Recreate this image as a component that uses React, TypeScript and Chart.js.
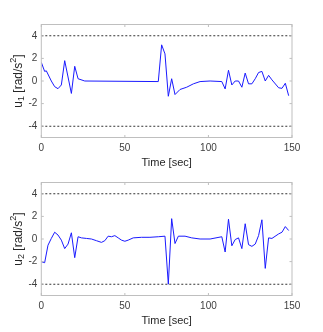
import React, { useEffect, useRef } from "react";
import { Chart, registerables } from "chart.js";

Chart.register(...registerables);

// ---- data ----
const u1Time = [0, 2, 3, 6, 8, 10, 12, 14, 18, 20, 22, 26, 70, 72, 74, 76, 78, 80, 83, 87, 91, 95, 101, 108, 110, 112, 114, 116, 118, 120, 122, 124, 126, 128, 130, 132, 134, 136, 138, 142, 144, 146, 148];
const u1Values = [1.65, 0.85, 0.9, 0, -0.5, -0.68, -0.35, 1.8, -1.1, 1.3, 0.2, 0, -0.05, 3.2, 2.4, -1.35, 0.2, -1.2, -0.75, -0.55, -0.25, -0.05, 0, -0.05, -0.7, 0.95, -0.35, 0, 0, -0.55, 0.7, -0.25, -0.25, 0.2, 0.75, 0.85, 0, 0.5, 0.1, -0.6, -0.65, -0.2, -1.3];

const u2Time = [0, 2, 4, 6, 8, 10, 12, 14, 16, 18, 20, 22, 24, 27, 30, 33, 36, 38, 40, 42, 44, 46, 48, 50, 52, 55, 60, 65, 70, 74, 76, 78, 80, 82, 86, 90, 95, 101, 108, 110, 112, 114, 116, 118, 120, 122, 124, 126, 128, 130, 132, 134, 136, 138, 142, 144, 146, 148];
const u2Values = [-2.0, -2.1, -0.55, 0.05, 0.6, 0.35, -0.1, -0.85, -0.45, 0.55, -1.65, 0.2, 0.1, 0.05, 0, -0.15, -0.3, -0.15, 0.25, 0.2, 0.3, 0.1, -0.1, -0.2, -0.1, 0.1, 0.15, 0.15, 0.2, 0.25, -4.0, 1.8, -0.4, 0.25, 0.25, 0.1, 0, 0, 0.2, -1.15, 1.75, -0.6, -0.05, 0.1, -0.85, 1.35, -0.5, -0.65, -0.45, 0.3, 1.7, -2.6, 0.1, 0.05, 0.45, 0.6, 1.1, 0.75];

const limitTimes = [0, 150];
const upperLimit = [4, 4];
const lowerLimit = [-4, -4];

const xTicks = [0, 50, 100, 150];
const yTicks = [-4, -2, 0, 2, 4];
const xTitle = "Time [sec]";

const FONT = "'Liberation Sans', Arial, Helvetica, sans-serif";
const TEXT_COLOR = "#404040";
const BOX_COLOR = "#bfbfbf";

function pts(xs: number[], ys: number[]) {
  return xs.map((x, i) => ({ x, y: ys[i] }));
}

const boxPlugin = {
  id: "matlabBox",
  afterDraw(chart: any, _args: any, opts: any) {
    const { ctx, chartArea: a, scales } = chart;
    const xs = scales.x;
    const ys = scales.y;
    ctx.save();
    ctx.strokeStyle = BOX_COLOR;
    ctx.lineWidth = 1;
    ctx.strokeRect(a.left, a.top, a.right - a.left, a.bottom - a.top);
    const tl = 2.5;
    ctx.beginPath();
    xTicks.forEach((v) => {
      const px = xs.getPixelForValue(v);
      ctx.moveTo(px, a.bottom);
      ctx.lineTo(px, a.bottom - tl);
      ctx.moveTo(px, a.top);
      ctx.lineTo(px, a.top + tl);
    });
    yTicks.forEach((v) => {
      const py = ys.getPixelForValue(v);
      ctx.moveTo(a.left, py);
      ctx.lineTo(a.left + tl, py);
      ctx.moveTo(a.right, py);
      ctx.lineTo(a.right - tl, py);
    });
    ctx.stroke();

    // x title
    ctx.fillStyle = "#262626";
    ctx.font = `11px ${FONT}`;
    ctx.textAlign = "center";
    ctx.textBaseline = "middle";
    ctx.fillText(xTitle, (a.left + a.right) / 2, a.bottom + 25.5);

    // y title with subscript / superscript
    const parts: [string, number, number][] = [
      ["u", 12, 0],
      [opts.sub, 9, 3.5],
      [" [rad/s", 12, 0],
      ["2", 9, -4.5],
      ["]", 12, 0],
    ];
    let total = 0;
    parts.forEach(([t, s]) => {
      ctx.font = `${s}px ${FONT}`;
      total += ctx.measureText(t).width;
    });
    ctx.translate(18.5, (a.top + a.bottom) / 2);
    ctx.rotate(-Math.PI / 2);
    ctx.textAlign = "left";
    let x = -total / 2;
    parts.forEach(([t, s, dy]) => {
      ctx.font = `${s}px ${FONT}`;
      ctx.fillText(t, x, dy);
      x += ctx.measureText(t).width;
    });
    ctx.restore();
  },
};

function Panel({ top, times, values, sub }: { top: number; times: number[]; values: number[]; sub: string }) {
  const ref = useRef<HTMLCanvasElement | null>(null);
  useEffect(() => {
    if (!ref.current) return;
    const chart = new Chart(ref.current, {
      type: "line",
      data: {
        datasets: [
          {
            data: pts(limitTimes, upperLimit),
            borderColor: "#000000",
            borderWidth: 0.8,
            borderDash: [2, 2],
            pointRadius: 0,
          },
          {
            data: pts(limitTimes, lowerLimit),
            borderColor: "#000000",
            borderWidth: 0.8,
            borderDash: [2, 2],
            pointRadius: 0,
          },
          {
            data: pts(times, values),
            borderColor: "#1a1aff",
            borderWidth: 1,
            pointRadius: 0,
            tension: 0,
          },
        ],
      },
      options: {
        animation: false,
        responsive: false,
        devicePixelRatio: 1,
        layout: { padding: { top: 24.5, right: 31, left: 0, bottom: 0 } },
        plugins: {
          legend: { display: false },
          tooltip: { enabled: false },
          matlabBox: { sub },
        } as any,
        scales: {
          x: {
            type: "linear",
            min: 0,
            max: 150,
            afterBuildTicks: (s: any) => {
              s.ticks = xTicks.map((v) => ({ value: v }));
            },
            afterFit: (s: any) => {
              s.height = 36.5;
            },
            grid: { display: false, drawTicks: false },
            border: { display: false },
            ticks: { padding: 5, maxRotation: 0, color: TEXT_COLOR, font: { size: 10, family: FONT } },
          },
          y: {
            type: "linear",
            min: -5,
            max: 5,
            afterBuildTicks: (s: any) => {
              s.ticks = yTicks.map((v) => ({ value: v }));
            },
            afterFit: (s: any) => {
              s.width = 41.3;
            },
            grid: { display: false, drawTicks: false },
            border: { display: false },
            ticks: { padding: 4, color: TEXT_COLOR, font: { size: 10, family: FONT } },
          },
        },
      },
      plugins: [boxPlugin],
    });
    return () => chart.destroy();
  }, []);
  return (
    <canvas
      ref={ref}
      width={323}
      height={174}
      style={{ position: "absolute", left: 0, top, width: 323, height: 174 }}
    />
  );
}

export default function App() {
  return (
    <div style={{ position: "fixed", left: 0, top: 0, width: 323, height: 332, background: "#fff" }}>
      <Panel top={0} times={u1Time} values={u1Values} sub="1" />
      <Panel top={158} times={u2Time} values={u2Values} sub="2" />
    </div>
  );
}
